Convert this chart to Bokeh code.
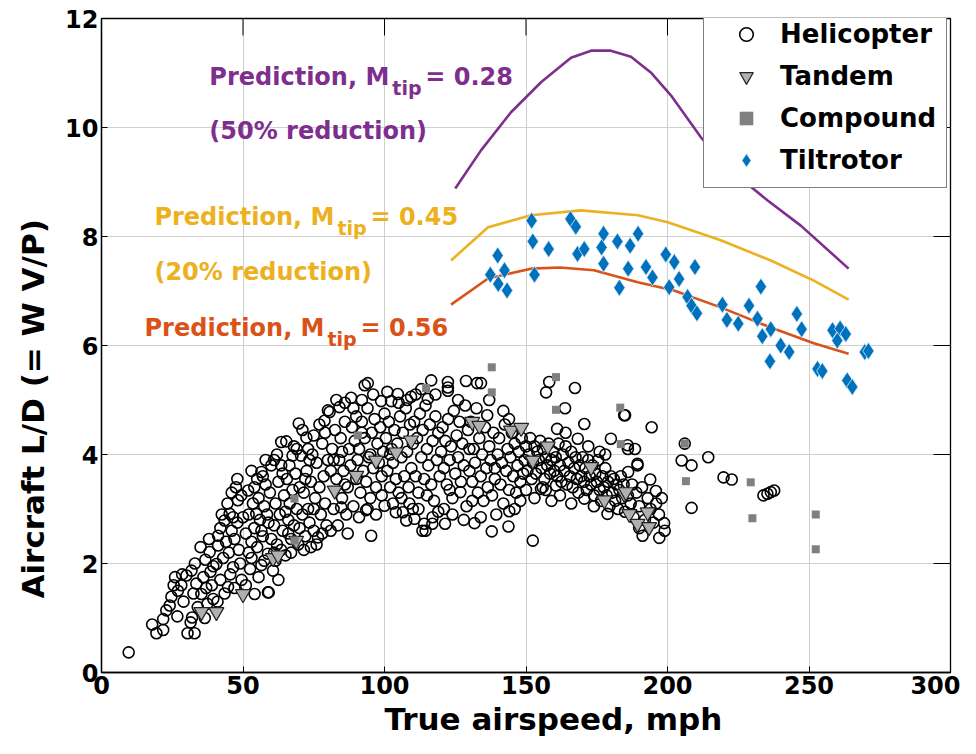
import math
from bokeh.plotting import figure
from bokeh.models import Range1d, FixedTicker, Legend, LegendItem, Title
from bokeh.core.properties import value
from bokeh.embed import file_html
from bokeh.resources import INLINE

# ---------------- data ----------------
helicopter_points = [
    (9.6,0.37),(17.9,0.88),(19.4,0.72),(21.8,0.78),(21.8,0.98),(22.9,1.14),(24.1,1.23),(24.7,1.39),(26.8,1.03),
    (28.2,1.6),(30,1.78),(30.4,0.72),(27,1.5),(25.5,1.6),(29,1.3),(26,1.75),(28.5,1.8),
    (31.5,0.92),(32,1.01),(32.9,0.72),(31.8,1.87),(33.5,1.63),(35.3,1.44),(37.4,1.26),(36.7,2.07),(38.2,2.21),
    (39,1.6),(34,1.2),(32.5,1.45),(36,1.75),(38.5,1.85),(37,1.55),(39.5,1.95),(33,2.0),(35,2.3),(38,2.45),(39.5,1.35),(36.5,1.0),
    (41.2,2.51),(41.2,2.33),(40.6,1.99),(43.5,2.79),(45.3,2.91),(48.2,3.16),(49.4,3.25),(46.5,1.93),(44.7,1.57),
    (42,1.7),(43,2.1),(44,2.4),(45,2.2),(46,2.6),(47,2.45),(48,2.75),(49,2.0),(42.5,2.9),(44.5,3.1),(46.5,2.85),
    (47.5,3.4),(48.5,2.25),(43.5,1.45),(41,1.3),(45.5,1.8),(49.5,1.7),(47,1.55),(42,2.65),(50,2.85),(48,3.55),(46,3.3),
    (51.8,3.34),(54.7,2.91),(54.1,1.44),(58.8,1.47),(58.8,2.18),(52,2.2),(56.5,1.97),(56.5,3.68),(59.1,1.47),
    (51,2.55),(52,2.9),(53,2.4),(53.5,3.1),(54,2.65),(55,2.3),(55.5,3.2),(56,2.8),(57,2.5),(57.5,3.05),(58,3.45),
    (59,2.75),(60,2.45),(59.5,3.3),(58,3.9),(57,3.6),(55,3.55),(53,3.7),(52.5,1.9),(55.5,1.75),(57.5,2.05),(51,1.6),
    (54,3.4),(60,3.8),(58.5,2.9),(56.5,2.6),(53,2.1),
    (60.6,1.87),(63.5,4.23),(65.3,4.24),(63.5,3.8),(66.4,3.8),(67.5,3.98),(69.7,4.57),(61,2.7),(61.5,3.1),(62,2.35),
    (62.5,3.5),(63,2.9),(64,2.6),(64.5,3.25),(65,2.15),(65.5,3.55),(66,2.8),(66.5,3.1),(67,2.45),(67.5,3.35),(68,2.7),
    (68.5,3.65),(69,3.0),(69.5,2.35),(70,3.4),(61.5,2.05),(63.5,2.25),(66,2.55),(68,4.15),(61,3.9),(64,3.65),(62,4.0),
    (69,4.1),(67,2.2),(65,2.95),(70,2.65),(62.5,1.7),(61,2.2),
    (70.5,3.98),(72.4,4.31),(78.8,4.62),(80,4.81),(71,2.9),(71.5,3.3),(72,2.5),(72.5,3.7),(73,3.0),(73.5,2.75),(74,3.5),
    (74.5,4.0),(75,2.6),(75.5,3.2),(76,3.85),(76.5,2.48),(77,3.4),(77.5,2.9),(78,4.2),(78.5,3.6),(79,3.1),(79.5,2.7),
    (80,3.9),(71,4.45),(73,4.1),(75,4.35),(77,4.55),(76,2.35),(74,2.3),(72,3.55),(79,4.4),(71.5,2.25),(78,2.55),(73.5,3.9),(75,3.0),
    (80.6,4.78),(84.1,4.87),(88.2,5.04),(84.7,3.03),(81,3.7),(81.5,4.1),(82,3.0),(82.5,4.45),(83,3.55),(83.5,2.7),
    (84,3.9),(84.5,4.3),(85,3.2),(85.5,3.7),(86,4.6),(86.5,2.9),(87,3.4),(87.5,4.1),(88,3.8),(88.5,4.5),(89,3.05),
    (89.5,4.25),(90,3.55),(86,4.95),(83,5.0),(81,2.6),(87,2.55),(89,4.85),(85,4.05),(90,4.7),(82,3.9),(86,3.45),
    (93,5.27),(94.1,5.31),(95.3,2.51),(93.5,2.98),(98.8,4.98),(90.5,3.9),(91,4.1),(91.5,3.3),(92,4.6),(92.5,3.7),
    (93,4.3),(93.5,3.5),(94,4.85),(94.5,3.95),(95,3.2),(95.5,4.4),(96,3.75),(96.5,4.65),(97,3.4),(97.5,4.2),(98,3.85),
    (98.5,4.5),(99,3.6),(99.5,4.05),(100,3.06),(100,4.75),(91,2.85),(92,5.0),(96,5.1),(97,2.9),(99,3.25),(94,3.0),(92,4.4),(95,4.0),
    (104.7,5.11),(109.4,5.06),(102.4,4.98),(104,2.94),(106.5,2.94),(107.7,2.79),(108.8,3.1),(100.5,4.3),(101,3.7),
    (101.5,4.6),(102,3.4),(102.5,4.1),(103,3.85),(103.5,4.45),(104,3.55),(104.5,4.2),(105,3.3),(105.5,4.7),(106,3.95),
    (106.5,4.4),(107,3.6),(107.5,4.85),(108,4.05),(108.5,3.4),(109,4.55),(109.5,3.75),(110,4.2),(101,5.15),(103,3.1),
    (106,3.2),(110,3.0),(108,5.0),(105,4.95),(102,4.0),
    (110.6,2.82),(114,2.73),(113.4,2.6),(115.3,5.02),(116.5,5.36),(116.9,2.73),(114.5,2.6),(110.5,4.6),(111,3.6),
    (111.5,4.3),(112,3.3),(112.5,4.75),(113,3.95),(113.5,4.45),(114,3.55),(114.5,4.9),(115,4.1),(115.5,3.8),(116,4.55),
    (116.5,3.45),(117,4.25),(117.5,3.15),(118,4.7),(118.5,3.9),(119,4.4),(119.5,3.6),(120,4.05),(111,5.1),(113,5.2),
    (118,5.1),(112,3.0),(115,3.25),(119,2.95),(117,2.85),
    (122.4,5.33),(122.4,5.23),(122.4,5.17),(128.8,5.35),(121.4,2.73),(126.8,3.31),(120.5,4.5),(121,3.75),(121.5,4.25),
    (122,3.45),(122.5,4.65),(123,3.9),(123.5,4.15),(124,3.2),(124.5,4.8),(125,3.65),(125.5,4.35),(126,3.95),(126.5,4.6),
    (127,3.5),(127.5,4.2),(128,3.8),(128.5,4.9),(129,3.05),(129.5,4.45),(130,3.7),(124,2.9),(126,5.0),(121,3.0),(128,2.8),
    (130,4.1),(123,3.35),
    (132.7,5.31),(134.1,5.31),(131.8,2.74),(137.9,2.59),(136.3,4.72),(130.5,4.6),(131,3.5),(131.5,4.1),(132,3.85),
    (132.5,4.85),(133,3.3),(133.5,4.3),(134,3.6),(134.5,4.0),(135,3.15),(135.5,4.5),(136,3.75),(136.5,3.4),(137,4.15),
    (137.5,3.9),(138,3.25),(138.5,4.4),(139,3.55),(139.5,2.9),(140,4.0),(131,3.15),(134,2.85),(137,5.0),(139,3.75),
    (143.8,2.68),(144.1,2.96),(140.5,4.3),(141,3.45),(141.5,3.85),(142,3.1),(142.5,4.55),(143,3.7),(143.5,4.1),
    (144,3.35),(144.5,3.95),(145,4.4),(145.5,3.6),(146,4.2),(146.5,3.3),(147,3.8),(147.5,4.05),(148,3.5),(148.5,4.3),
    (149,3.65),(149.5,3.9),(150,4.15),(142,4.8),(146,3.0),(150,3.35),(148,3.15),(144,4.65),
    (152.4,2.42),(155.3,3.37),(160.6,3.43),(155.9,3.4),(158.2,5.33),(157.1,5.14),(150.5,3.7),(151,4.0),(151.5,4.3),
    (152,3.55),(152.5,3.85),(153,4.15),(153.5,3.65),(154,4.05),(154.5,3.9),(155,4.25),(155.5,3.75),(156,4.1),(156.5,3.55),
    (157,3.95),(157.5,3.8),(158,4.2),(158.5,3.65),(159,3.9),(159.5,4.05),(160,3.7),(153,3.2),(157,3.35),(159,3.15),(161,4.47),
    (163.8,4.85),(167.3,5.22),(170.6,4.56),(168.3,4.29),(170.6,3.19),(160.5,3.95),(161,3.6),(161.5,4.2),(162,3.8),
    (162.5,3.5),(163,4.0),(163.5,3.7),(164,4.15),(164.5,3.45),(165,3.85),(165.5,3.6),(166,4.05),(166.5,3.4),(167,3.75),
    (167.5,3.95),(168,3.55),(168.5,3.3),(169,3.8),(169.5,3.6),(170,3.95),(162,3.25),(166,3.1),(164,4.4),
    (178.8,2.91),(180,4.29),(170.5,3.5),(171,3.75),(171.5,3.35),(172,3.9),(172.5,3.6),(173,3.45),(173.5,3.8),(174,3.25),
    (174.5,3.65),(175,3.5),(175.5,3.9),(176,3.35),(176.5,3.15),(177,3.6),(177.5,3.4),(178,3.75),(178.5,3.25),(179,3.5),
    (179.5,3.05),(180,3.6),(172,4.15),(176,4.05),(174,3.05),(178,4.0),
    (184.7,4.72),(185,4.72),(185.9,4.17),(188.5,4.1),(186,4.1),(189.4,3.8),(186.1,3.68),(189.4,3.83),(193.9,3.54),
    (195.9,3.33),(198.8,2.74),(197.1,2.47),(191.2,2.51),(194.4,4.5),(180.5,3.3),(181,3.55),(181.5,3.15),(182,3.45),
    (182.5,3.0),(183,3.35),(183.5,3.6),(184,3.2),(184.5,3.45),(185,2.95),(186,3.25),(187,3.1),(187.5,3.45),(188,2.85),
    (189,3.3),(190,3.05),(191,3.4),(192,2.8),(193,3.2),(194,3.0),(195,2.75),(196,3.1),(197,2.9),(198,3.2),(199,2.6),(190,2.65),
    (205,3.89),(208.5,3.8),(214.4,3.95),(208.5,3.02),(219.8,3.58),(222.7,3.54),(233.9,3.25),(235.3,3.28),(236.5,3.31),
    (237.7,3.34),(206.1,4.2),
]
heli_speed = [pt[0] for pt in helicopter_points]
heli_ld = [pt[1] for pt in helicopter_points]

tandem_speed = [35.3, 40.6, 50.0, 60.6, 62.4, 68.8, 82.4, 90.0, 97.0, 104.1, 109.4, 131.0, 133.5, 144.7, 148.3,
                152.4, 157.7, 173.0, 177.7, 184.7, 185.3, 186.5, 189.4, 193.0, 193.5]
tandem_ld = [1.11, 1.11, 1.44, 2.10, 2.15, 2.42, 3.34, 3.61, 3.89, 4.04, 4.26, 4.60, 4.53, 4.44, 4.49,
             3.89, 4.15, 3.77, 3.16, 3.28, 3.31, 2.91, 2.73, 2.94, 2.67]

compound_speed = [68.2, 68.2, 90.6, 114.7, 137.9, 137.9, 160.6, 160.6, 183.3, 183.5, 206.1, 206.5, 229.4, 230.0, 252.4, 252.4]
compound_ld = [2.42, 3.19, 4.35, 5.22, 5.60, 5.14, 5.42, 4.82, 4.86, 4.19, 4.20, 3.51, 3.49, 2.83, 2.90, 2.26]

tilt_speed = [140.0, 137.4, 142.4, 140.2, 143.3, 152.0, 152.4, 158.0, 153.0, 165.7, 167.6, 168.2, 170.6, 177.4, 176.7,
              177.4, 182.3, 186.8, 189.6, 183.0, 186.1, 192.4, 194.7, 199.4, 202.4, 204.1, 209.7, 200.6, 207.1, 208.5,
              210.4, 219.4, 221.0, 225.0, 228.8, 233.0, 231.8, 236.5, 233.5, 240.0, 243.0, 236.2, 245.7, 247.4, 253.0,
              254.7, 258.3, 261.0, 263.0, 260.0, 263.5, 265.3, 269.7, 271.0]
tilt_ld = [7.65, 7.30, 7.38, 7.13, 7.01, 8.29, 7.91, 7.77, 7.30, 8.32, 8.18, 7.68, 7.77, 8.05, 7.80,
           7.50, 7.91, 7.83, 8.05, 7.06, 7.41, 7.44, 7.25, 7.67, 7.53, 7.22, 7.44, 7.07, 6.89, 6.73,
           6.59, 6.75, 6.47, 6.40, 6.73, 7.08, 6.49, 6.30, 6.17, 6.00, 5.88, 5.71, 6.58, 6.30, 5.57,
           5.53, 6.28, 6.31, 6.21, 6.09, 5.36, 5.24, 5.88, 5.90]

pred028_speed = [125.0, 134.1, 144.7, 155.3, 165.9, 173.0, 180.0, 187.1, 194.1, 201.2, 211.8, 222.4, 235.4, 247.1, 264.0]
pred028_ld = [8.88, 9.58, 10.28, 10.83, 11.28, 11.41, 11.41, 11.30, 11.01, 10.59, 9.82, 9.21, 8.66, 8.20, 7.41]

pred045_speed = [123.5, 136.6, 151.8, 169.4, 189.5, 200.1, 218.8, 236.5, 251.7, 264.0]
pred045_ld = [7.56, 8.17, 8.39, 8.48, 8.39, 8.26, 7.93, 7.56, 7.19, 6.84]

pred056_speed = [123.5, 136.6, 151.8, 162.0, 174.0, 189.5, 202.3, 218.8, 236.5, 251.7, 264.0]
pred056_ld = [6.75, 7.23, 7.41, 7.43, 7.38, 7.16, 7.01, 6.70, 6.33, 6.04, 5.85]

x_ticks = [0, 50, 100, 150, 200, 250, 300]
y_ticks = [0, 2, 4, 6, 8, 10, 12]
x_max = 300
y_max = 12

legend_labels = ["Helicopter", "Tandem", "Compound", "Tiltrotor"]

# annotation texts: (main, subscript, tail, colour, x, y)
annotations = [
    ("Prediction, M", "tip", "= 0.28", "#7E2F8E", 38.1, 10.92),
    ("(50% reduction)", "", "", "#7E2F8E", 38.1, 9.93),
    ("Prediction, M", "tip", "= 0.45", "#EDB120", 18.7, 8.35),
    ("(20% reduction)", "", "", "#EDB120", 18.7, 7.34),
    ("Prediction, M", "tip", "= 0.56", "#D95319", 15.2, 6.33),
]

FONT = "DejaVu Sans"

# ---------------- figure ----------------
p = figure(width=960, height=738, output_backend="svg", toolbar_location=None,
           x_range=Range1d(0, x_max), y_range=Range1d(0, y_max))
p.min_border_left = 100
p.min_border_right = 10
p.min_border_top = 18
p.min_border_bottom = 66

p.outline_line_color = "black"
p.outline_line_width = 1.3
p.background_fill_color = "white"
p.border_fill_color = "white"

for ax in (p.xaxis[0], p.yaxis[0]):
    ax.major_label_text_font = FONT
    ax.major_label_text_font_style = "bold"
    ax.major_label_text_font_size = "24px"
    ax.major_label_text_color = "black"
    ax.axis_line_color = "black"
    ax.axis_line_width = 1.3
    ax.major_tick_in = 6
    ax.major_tick_out = 0
    ax.minor_tick_in = 0
    ax.minor_tick_out = 0
    ax.major_tick_line_color = "black"
    ax.major_label_standoff = 3
p.xaxis.ticker = FixedTicker(ticks=x_ticks)
p.yaxis.ticker = FixedTicker(ticks=y_ticks)

p.xgrid.ticker = FixedTicker(ticks=x_ticks)
p.ygrid.ticker = FixedTicker(ticks=y_ticks)
p.grid.grid_line_color = "#cfcfcf"
p.grid.grid_line_width = 1

# box tick marks on the top and right edges
p.ray(x=x_ticks, y=[y_max] * len(x_ticks), length=6, angle=-math.pi / 2,
      line_color="black", line_width=1)
p.ray(x=[x_max] * len(y_ticks), y=y_ticks, length=6, angle=math.pi,
      line_color="black", line_width=1)

# prediction curves
p.line(pred028_speed, pred028_ld, line_color="#7E2F8E", line_width=2.6)
p.line(pred045_speed, pred045_ld, line_color="#EDB120", line_width=2.6)
p.line(pred056_speed, pred056_ld, line_color="#D95319", line_width=2.6)

# scatter series
r_heli = p.scatter(heli_speed, heli_ld, marker="circle", size=11, fill_color=None,
                   line_color="black", line_width=1.6)
r_tand = p.scatter(tandem_speed, tandem_ld, marker="inverted_triangle", size=15, fill_color="#b0b0b0",
                   line_color="#222222", line_width=1.2)
r_comp = p.scatter(compound_speed, compound_ld, marker="square", size=8, fill_color="#808080",
                   line_color=None)
r_tilt = p.scatter(tilt_speed, tilt_ld, marker="diamond", size=17, fill_color="#0072BD",
                   line_color="#d8ecf8", line_width=0.8)

# annotations
for main, sub, tail, col, ax_, ay_ in annotations:
    p.text(x=[ax_], y=[ay_], text=[main], text_color=col, text_font=value(FONT),
           text_font_style="bold", text_font_size="24px", text_baseline="middle", text_align="left")
    if sub:
        p.text(x=[ax_], y=[ay_], text=[sub], text_color=col, text_font=value(FONT),
               text_font_style="bold", text_font_size="19px", text_baseline="middle", text_align="left",
               x_offset=183, y_offset=11)
        p.text(x=[ax_], y=[ay_], text=[tail], text_color=col, text_font=value(FONT),
               text_font_style="bold", text_font_size="24px", text_baseline="middle", text_align="left",
               x_offset=216)

# axis labels placed as titles with offsets
ylab = Title(text="Aircraft L/D (= W V/P)", align="left", offset=74, standoff=24,
             text_font=FONT, text_font_style="bold", text_font_size="31px", text_color="black")
p.add_layout(ylab, "left")
xlab = Title(text="True airspeed, mph", align="left", offset=283, standoff=4,
             text_font=FONT, text_font_style="bold", text_font_size="31px", text_color="black")
p.add_layout(xlab, "below")

legend = Legend(items=[LegendItem(label=legend_labels[0], renderers=[r_heli]),
                       LegendItem(label=legend_labels[1], renderers=[r_tand]),
                       LegendItem(label=legend_labels[2], renderers=[r_comp]),
                       LegendItem(label=legend_labels[3], renderers=[r_tilt])],
                location=(602, 484))
legend.label_text_font = FONT
legend.label_text_font_style = "bold"
legend.label_text_font_size = "26px"
legend.label_text_color = "black"
legend.label_height = 34
legend.glyph_height = 34
legend.glyph_width = 64
legend.label_standoff = 2
legend.spacing = 8
legend.padding = 10
legend.margin = 0
legend.border_line_color = "black"
legend.border_line_width = 1.2
legend.background_fill_color = "white"
legend.background_fill_alpha = 1
p.add_layout(legend)

open("out.html", "w").write(file_html(p, INLINE))
